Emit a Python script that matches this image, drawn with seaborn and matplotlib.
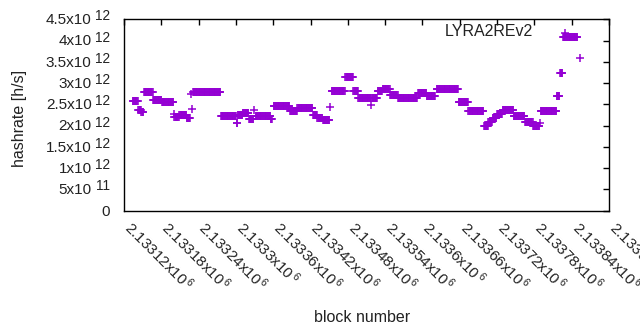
import numpy as np
import pandas as pd
import matplotlib
matplotlib.use("Agg")
import matplotlib.pyplot as plt
import matplotlib.transforms as mtransforms
import seaborn as sns

# ── Data (runs of constant hashrate) ──────────────────────────────
base_block = 2133000
seg_start = [134, 143, 148, 152, 167, 181, 200, 201, 209, 221, 228, 229, 231,
             276, 301, 303, 311, 321, 329, 332, 356, 361, 387, 399, 424, 431,
             440, 451, 454, 476, 489, 497, 518, 519, 528, 536, 548, 561, 593,
             607, 623, 658, 674, 699, 706, 713, 720, 729, 747, 765, 778, 789,
             790, 816, 821, 826, 830, 853]
seg_end = [142, 147, 151, 166, 180, 199, 200, 208, 220, 226, 228, 229, 275,
           300, 302, 310, 320, 328, 329, 355, 358, 386, 398, 423, 430, 439,
           450, 451, 475, 488, 496, 517, 518, 527, 535, 547, 560, 591, 606,
           620, 657, 673, 698, 705, 712, 719, 728, 746, 764, 777, 788, 789,
           815, 820, 825, 849, 830, 853]
seg_value = [2.57, 2.36, 2.31, 2.78, 2.61, 2.55, 2.27, 2.20, 2.24, 2.17, 2.75,
             2.38, 2.80, 2.22, 2.06, 2.26, 2.29, 2.16, 2.37, 2.23, 2.15, 2.45,
             2.34, 2.41, 2.24, 2.17, 2.13, 2.43, 2.81, 3.14, 2.81, 2.64, 2.48,
             2.64, 2.82, 2.87, 2.73, 2.65, 2.77, 2.70, 2.86, 2.55, 2.34, 2.00,
             2.09, 2.19, 2.28, 2.36, 2.22, 2.09, 2.00, 2.07, 2.34, 2.70, 3.23,
             4.09, 4.18, 3.60]  # x10^12 h/s

series_label = "LYRA2REv2"
y_ticks = [0, 0.5e12, 1e12, 1.5e12, 2e12, 2.5e12, 3e12, 3.5e12, 4e12, 4.5e12]
y_tick_base = ["0", "5x10", "1x10", "1.5x10", "2x10", "2.5x10", "3x10",
               "3.5x10", "4x10", "4.5x10"]
y_tick_exp = ["", "11", "12", "12", "12", "12", "12", "12", "12", "12"]
x_ticks = list(range(2133120, 2133901, 60))

blocks, rates = [], []
for s, e, v in zip(seg_start, seg_end, seg_value):
    for b in range(s, e + 1):
        blocks.append(base_block + b)
        rates.append(v * 1e12)
df = pd.DataFrame({"block": blocks, "hashrate": rates})

# ── Style ─────────────────────────────────────────────────────────
sns.set_theme(style="white")
plt.rcParams["font.family"] = ["Liberation Sans", "DejaVu Sans"]
plt.rcParams["mathtext.fontset"] = "custom"
plt.rcParams["mathtext.rm"] = "Liberation Sans"
plt.rcParams["mathtext.default"] = "regular"

txt = "#222222"
fig = plt.figure(figsize=(6.4, 3.3), dpi=100)
ax = fig.add_axes([124 / 640, 1 - 210.7 / 330, 485 / 640, 191.4 / 330])

sns.scatterplot(data=df, x="block", y="hashrate", marker="+", color="#9400d3",
                s=30, linewidth=1.1, ax=ax, legend=False)

ax.set_xlim(2133120, 2133900)
ax.set_ylim(0, 4.5e12)
ax.set_yticks(y_ticks)
ax.set_yticklabels([])
ax.set_xticks(x_ticks)

ax.tick_params(axis="both", direction="in", length=4, width=1, top=True,
               right=True, colors="black", labelcolor=txt)
ax.tick_params(axis="x", pad=3)

# y tick labels drawn by hand: gnuplot-style "NxA" with a big superscript
ytrans = mtransforms.blended_transform_factory(ax.transAxes, ax.transData)
for yv, b, e in zip(y_ticks, y_tick_base, y_tick_exp):
    if e:
        ax.annotate(b, (0, yv), xycoords=ytrans, xytext=(-23.3, -0.6),
                    textcoords="offset points", ha="right", va="center",
                    fontsize=11, color=txt, annotation_clip=False)
        ax.annotate(e, (0, yv), xycoords=ytrans, xytext=(-10, 2.2),
                    textcoords="offset points", ha="right", va="center",
                    fontsize=9.8, color=txt, annotation_clip=False)
    else:
        ax.annotate(b, (0, yv), xycoords=ytrans, xytext=(-10, -0.6),
                    textcoords="offset points", ha="right", va="center",
                    fontsize=11, color=txt, annotation_clip=False)


def xlab(v):
    s = f"{v / 1e6:.5f}".rstrip("0").rstrip(".")
    return s + "x10$^{\\,6}$"


ax.set_xticklabels([xlab(v) for v in x_ticks], fontsize=11, color=txt,
                   rotation=-45, ha="left", va="top", rotation_mode="anchor")
shift = mtransforms.ScaledTranslation(10 / 100, -3 / 100, fig.dpi_scale_trans)
for lab in ax.get_xticklabels():
    lab.set_transform(lab.get_transform() + shift)

for sp in ax.spines.values():
    sp.set_color("black")
    sp.set_linewidth(1)
    sp.set_visible(True)

ax.set_xlabel("block number", fontsize=11.5, color=txt)
ax.xaxis.set_label_coords(0.49, -0.52)
ax.set_ylabel("hashrate [h/s]", fontsize=11.5, color=txt)
ax.yaxis.set_label_coords(-0.20, 0.484)

ax.text(0.843, 0.935, series_label, transform=ax.transAxes, ha="right",
        va="center", fontsize=11.5, color=txt)

fig.savefig("out.png", dpi=100)
